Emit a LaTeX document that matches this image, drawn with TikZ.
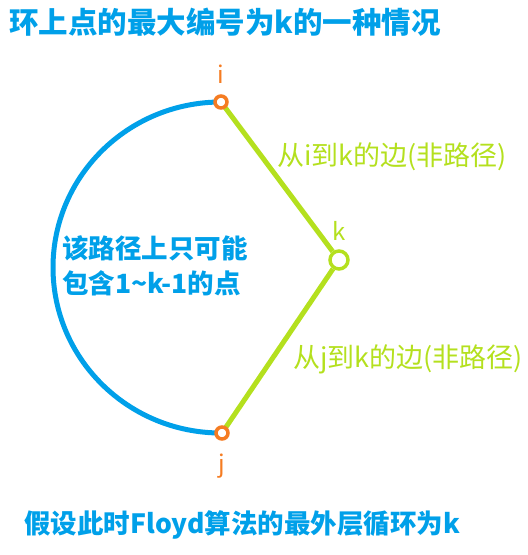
\documentclass[tikz,border=0pt]{standalone}
\usepackage{fontspec}
\setmainfont{Noto Sans CJK SC}
\usetikzlibrary{positioning, backgrounds}

\definecolor{ringblue}{RGB}{0,160,233}
\definecolor{edgegreen}{RGB}{180,224,30}
\definecolor{endorange}{RGB}{245,124,34}

\begin{document}
\begin{tikzpicture}[x=1pt, y=-1pt,
  endpt/.style={circle, draw=endorange, fill=white, line width=3.5pt, inner sep=0pt, minimum size=12pt},
  midpt/.style={circle, draw=edgegreen, fill=white, line width=3.5pt, inner sep=0pt, minimum size=18pt},
  ptlabel/.style={font=\fontsize{24}{28}\selectfont, inner sep=0pt},
  edgelabel/.style={font=\fontsize{27}{30}\selectfont, text=edgegreen, anchor=west, inner sep=0pt},
  bluetext/.style={font=\fontsize{26.5}{35}\selectfont\bfseries, text=ringblue, anchor=west, inner sep=0pt},
  ring/.style={draw=ringblue, line width=5pt},
  direct/.style={draw=edgegreen, line width=5pt}]

  \useasboundingbox (0,0) rectangle (528,555);

  \node[bluetext, font=\fontsize{29.5}{34}\selectfont\bfseries] (title) at (9,22) {环上点的最大编号为k的一种情况};

  \node[endpt] (i) at (221,102) {};
  \node[midpt] (k) at (339,260) {};
  \node[endpt] (j) at (222,433) {};

  \node[ptlabel, text=endorange, above=11pt of i] (li) {i};
  \node[ptlabel, text=edgegreen, above=9pt of k] (lk) {k};
  \node[ptlabel, text=endorange, below=13pt of j] (lj) {j};

  \begin{scope}[on background layer]
    \draw[ring] (i.center) arc[start angle=270, end angle=90, x radius=168, y radius=165.5];
    \draw[direct] (i.center) -- (k);
    \draw[direct] (k) -- (j.center);
  \end{scope}

  \node[edgelabel] (ik) at (277,157) {从i到k的边(非路径)};
  \node[edgelabel] (jk) at (293,359) {从j到k的边(非路径)};

  \node[bluetext, align=left] (path) at (62,266) {该路径上只可能\\包含1\textasciitilde k-1的点};

  \node[bluetext] (note) at (24,525) {假设此时Floyd算法的最外层循环为k};
\end{tikzpicture}
\end{document}
